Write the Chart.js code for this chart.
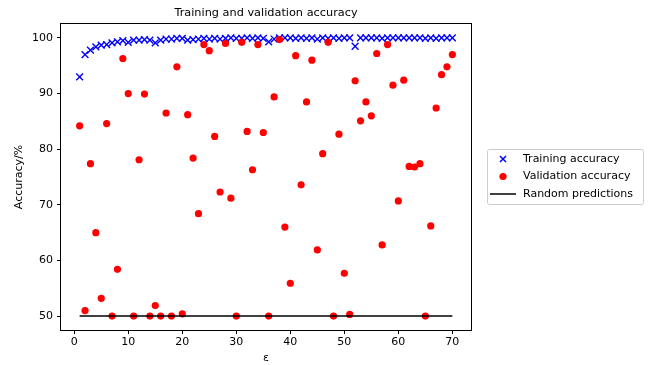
<!DOCTYPE html>
<html>
<head>
<meta charset="utf-8">
<script src="https://cdn.jsdelivr.net/npm/chart.js@4.4.0/dist/chart.umd.min.js"></script>
<style>
  body { margin: 0; background: #fff; }
  canvas { display: block; }
</style>
</head>
<body>
<canvas id="chart" width="654" height="365"></canvas>
<script>
const epochs = [1, 2, 3, 4, 5, 6, 7, 8, 9, 10, 11, 12, 13, 14, 15, 16, 17, 18, 19, 20,
  21, 22, 23, 24, 25, 26, 27, 28, 29, 30, 31, 32, 33, 34, 35, 36, 37, 38, 39, 40,
  41, 42, 43, 44, 45, 46, 47, 48, 49, 50, 51, 52, 53, 54, 55, 56, 57, 58, 59, 60,
  61, 62, 63, 64, 65, 66, 67, 68, 69, 70];

const trainAcc = [93.0, 97.0, 97.8, 98.4, 98.7, 98.8, 99.1, 99.3, 99.5, 99.2,
  99.6, 99.6, 99.7, 99.6, 99.1, 99.6, 99.8, 99.8, 99.9, 99.9,
  99.6, 99.7, 99.8, 99.9, 99.8, 99.9, 99.8, 99.9, 100, 99.9,
  99.9, 100, 99.9, 100, 99.9, 99.3, 99.8, 100, 100, 100,
  99.9, 100, 99.9, 100, 99.8, 100, 99.9, 100, 99.9, 100,
  100, 98.5, 100, 100, 100, 100, 99.9, 100, 100, 100,
  100, 100, 100, 100, 99.9, 100, 99.9, 100, 100, 100];

const valAcc = [84.2, 51.0, 77.4, 65.0, 53.2, 84.6, 50.0, 58.4, 96.3, 90.0,
  50.0, 78.1, 89.9, 50.0, 51.9, 50.0, 86.5, 50.0, 94.8, 50.4,
  86.2, 78.4, 68.4, 98.8, 97.7, 82.3, 72.3, 99.0, 71.2, 50.0,
  99.2, 83.2, 76.3, 98.8, 83.0, 50.0, 89.4, 99.7, 66.0, 55.9,
  96.8, 73.6, 88.5, 96.0, 61.9, 79.2, 99.2, 50.0, 82.7, 57.7,
  50.3, 92.3, 85.1, 88.5, 86.0, 97.2, 62.8, 98.8, 91.5, 70.7,
  92.4, 76.9, 76.8, 77.4, 50.0, 66.2, 87.4, 93.4, 94.8, 97.0];

const randomX = [1, 70];
const randomY = [50, 50];

const xTicks = [0, 10, 20, 30, 40, 50, 60, 70];
const yTicks = [50, 60, 70, 80, 90, 100];

const seriesNames = ['Training accuracy', 'Validation accuracy', 'Random predictions'];

Chart.defaults.font.family = 'DejaVu Sans';
Chart.defaults.font.size = 11;
Chart.defaults.color = '#000';

const toPoints = (xs, ys) => xs.map((x, i) => ({ x: x, y: ys[i] }));

// frame round the plot, title over the plot area, boxed legend on the right
const decor = {
  id: 'decor',
  afterDraw(chart) {
    const { ctx, chartArea: a } = chart;
    ctx.save();
    ctx.strokeStyle = '#000';
    ctx.lineWidth = 1;
    ctx.strokeRect(a.left - 0.5, a.top - 0.5, a.right - a.left + 1, a.bottom - a.top + 1);

    ctx.font = '11.3px "DejaVu Sans"';
    ctx.fillStyle = '#000';
    ctx.textAlign = 'center';
    ctx.textBaseline = 'middle';
    ctx.fillText('Training and validation accuracy', (a.left + a.right) / 2, 13);

    // legend
    const lx = 487, ly = 149, lw = 156, lh = 55;
    ctx.beginPath();
    ctx.roundRect(lx + 0.5, ly + 0.5, lw, lh, 2);
    ctx.fillStyle = 'rgba(255,255,255,0.8)';
    ctx.fill();
    ctx.strokeStyle = '#cccccc';
    ctx.stroke();

    const rows = [ly + 10, ly + 27.5, ly + 45];
    const sx = 503;
    ctx.strokeStyle = 'blue';
    ctx.lineWidth = 1.5;
    ctx.beginPath();
    ctx.moveTo(sx - 3, rows[0] - 3); ctx.lineTo(sx + 3, rows[0] + 3);
    ctx.moveTo(sx - 3, rows[0] + 3); ctx.lineTo(sx + 3, rows[0] - 3);
    ctx.stroke();

    ctx.fillStyle = 'red';
    ctx.beginPath();
    ctx.arc(sx, rows[1], 3.6, 0, Math.PI * 2);
    ctx.fill();

    ctx.strokeStyle = '#000';
    ctx.beginPath();
    ctx.moveTo(sx - 13, rows[2]); ctx.lineTo(sx + 13, rows[2]);
    ctx.stroke();

    ctx.font = '11px "DejaVu Sans"';
    ctx.fillStyle = '#000';
    ctx.textAlign = 'left';
    seriesNames.forEach((name, i) => ctx.fillText(name, 523, rows[i]));
    ctx.restore();
  }
};

new Chart(document.getElementById('chart'), {
  type: 'scatter',
  data: {
    datasets: [
      {
        label: seriesNames[0],
        data: toPoints(epochs, trainAcc),
        pointStyle: 'crossRot',
        pointRadius: 4.8,
        pointBorderWidth: 1.4,
        borderColor: 'blue',
        backgroundColor: 'blue',
        order: 2,
      },
      {
        label: seriesNames[1],
        data: toPoints(epochs, valAcc),
        pointStyle: 'circle',
        pointRadius: 3.6,
        pointBorderWidth: 0,
        borderColor: 'red',
        backgroundColor: 'red',
        order: 1,
      },
      {
        type: 'line',
        label: seriesNames[2],
        data: toPoints(randomX, randomY),
        borderColor: '#000',
        borderWidth: 1.5,
        pointRadius: 0,
        fill: false,
        order: 0,
      },
    ],
  },
  options: {
    responsive: false,
    animation: false,
    devicePixelRatio: 1,
    layout: { padding: { top: 24, right: 183, bottom: 0, left: 0 } },
    plugins: {
      legend: { display: false },
      title: { display: false },
      tooltip: { enabled: false },
    },
    scales: {
      x: {
        type: 'linear',
        min: -2.45,
        max: 73.45,
        afterBuildTicks: (s) => { s.ticks = xTicks.map((v) => ({ value: v })); },
        afterFit: (s) => { s.height = 35; },
        grid: { drawOnChartArea: false, drawTicks: true, tickLength: 4, color: '#000' },
        border: { display: false },
        ticks: { padding: 2, maxRotation: 0, autoSkip: false },
        title: { display: true, text: 'ε', padding: { top: 0, bottom: 0 } },
      },
      y: {
        type: 'linear',
        min: 47.5,
        max: 102.5,
        afterBuildTicks: (s) => { s.ticks = yTicks.map((v) => ({ value: v })); },
        afterFit: (s) => { s.width = 61; },
        grid: { drawOnChartArea: false, drawTicks: true, tickLength: 4, color: '#000' },
        border: { display: false },
        ticks: { padding: 4, autoSkip: false },
        title: { display: true, text: 'Accuracy/%', padding: { top: 12.5, bottom: 0 } },
      },
    },
  },
  plugins: [decor],
});
</script>
</body>
</html>
